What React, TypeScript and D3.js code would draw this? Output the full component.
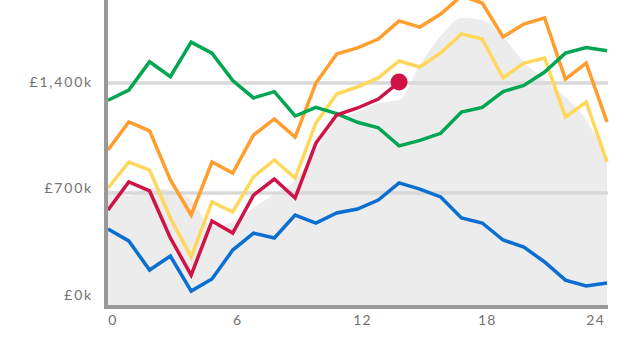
import React from "react";
import * as d3 from "d3";

const steps = [0,1,2,3,4,5,6,7,8,9,10,11,12,13,14,15,16,17,18,19,20,21,22,23,24];
const xTicks = [0, 6, 12, 18, 24];
const yTicks = [0, 700, 1400];

const areaSeries = [725,681,732,719,655,490,515,605,694,783,974,1165,1215,1273,1292,1515,1699,1814,1801,1693,1534,1419,1311,1165,923];
const greenSeries = [1290,1355,1535,1440,1660,1590,1415,1305,1345,1190,1245,1205,1150,1115,1000,1035,1080,1215,1245,1345,1385,1470,1590,1625,1605];
const orangeSeries = [974,1152,1095,783,560,897,827,1069,1171,1056,1400,1585,1623,1680,1795,1756,1839,1954,1909,1693,1775,1814,1425,1527,1152];
const yellowSeries = [732,897,846,541,293,643,579,802,910,795,1145,1330,1375,1432,1540,1502,1591,1712,1680,1432,1527,1559,1184,1279,897];
const redSeries = [592,770,713,414,178,522,445,687,789,668,1018,1196,1241,1298,1406];
const blueSeries = [471,395,210,299,76,153,337,445,414,560,509,573,598,655,764,725,675,541,509,401,356,261,146,108,127];

const fmtY = (v: number) => "£" + d3.format(",")(v) + "k";

export default function App() {
  const W = 640, H = 360;
  const x = d3.scaleLinear().domain([0, 24]).range([108, 607]);
  const y = d3.scaleLinear().domain([0, 1400]).range([303, 83]);

  const line = (vals: number[]) =>
    d3.line<number>().x((_, i) => x(steps[i])).y((v) => y(v))(vals) || "";
  const area = d3
    .area<number>()
    .x((_, i) => x(steps[i]))
    .y0(y(0) + 2)
    .y1((v) => y(v))
    .curve(d3.curveMonotoneX)(areaSeries) || "";

  const series = [
    { vals: orangeSeries, color: "#ff9e2c" },
    { vals: yellowSeries, color: "#ffd75a" },
    { vals: greenSeries, color: "#00a651" },
    { vals: blueSeries, color: "#0a6fd1" },
    { vals: redSeries, color: "#cf1347" },
  ];
  const lastRed = redSeries.length - 1;
  const font = "Lato, 'DejaVu Sans', sans-serif";

  return (
    <svg
      width={W}
      height={H}
      style={{ position: "absolute", left: 0, top: 0, background: "#fff" }}
    >
      <path d={area} fill="#ececec" />
      {yTicks.filter((t) => t > 0).map((t) => (
        <line key={t} x1={108} x2={608} y1={y(t)} y2={y(t)} stroke="#d9d9d9" strokeWidth={3.5} />
      ))}
      {series.map((s, i) => (
        <path key={i} d={line(s.vals)} fill="none" stroke={s.color} strokeWidth={3.5} strokeLinejoin="miter" />
      ))}
      <circle cx={x(steps[lastRed])} cy={y(redSeries[lastRed])} r={8.5} fill="#cf1347" />
      <line x1={106} x2={106} y1={0} y2={309} stroke="#999" strokeWidth={4} />
      <line x1={104} x2={608} y1={307} y2={307} stroke="#999" strokeWidth={4} />
      {yTicks.map((t) => (
        <text
          key={t}
          x={93}
          y={y(t) - (1 - t / 1400) * 7}
          dominantBaseline="middle"
          textAnchor="end"
          fontFamily={font}
          fontSize={14}
          letterSpacing={1.8}
          fill="#727272"
        >
          {fmtY(t)}
        </text>
      ))}
      {xTicks.map((t, i) => {
        const last = i === xTicks.length - 1;
        return (
          <text
            key={t}
            x={last ? x(t) - 2 : x(t) + 5}
            y={325}
            textAnchor={last ? "end" : "middle"}
            fontFamily={font}
            fontSize={14}
            letterSpacing={1.2}
            fill="#727272"
          >
            {t}
          </text>
        );
      })}
    </svg>
  );
}
